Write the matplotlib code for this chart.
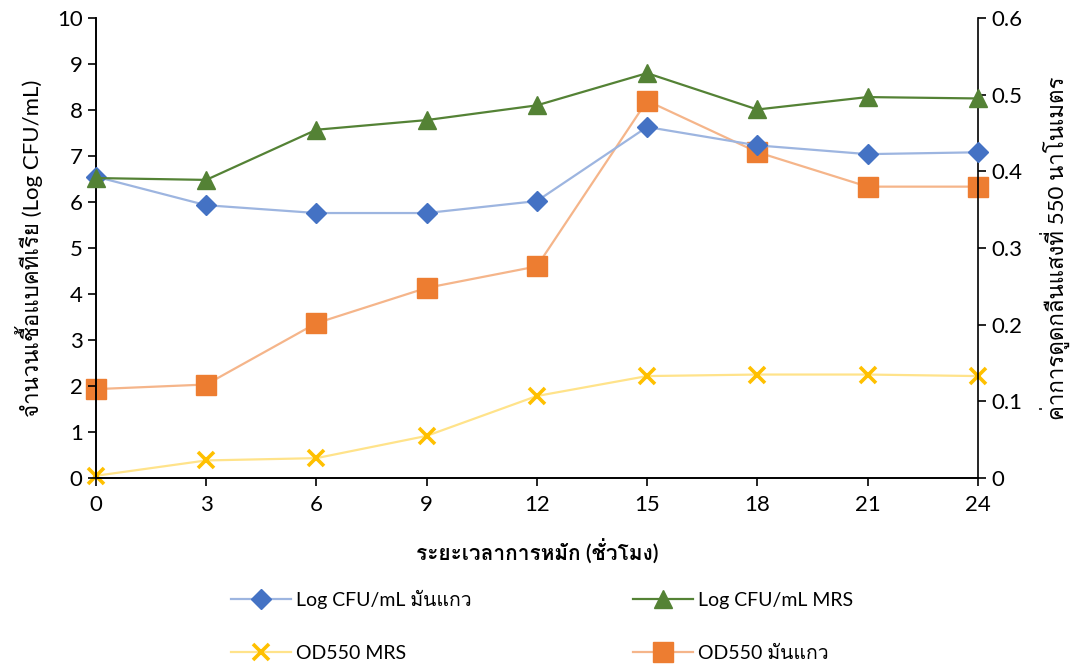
import matplotlib
matplotlib.use("Agg")
import matplotlib.pyplot as plt
from matplotlib import font_manager, ft2font

# ฟอนต์ที่มีอักษรไทย (ถ้ามีในเครื่อง)
thai_fonts = []
for f in font_manager.fontManager.ttflist:
    try:
        if ord("ก") in ft2font.FT2Font(f.fname).get_charmap():
            if f.name not in thai_fonts:
                thai_fonts.append(f.name)
    except Exception:
        pass
plt.rcParams["font.family"] = ["Lato"] + thai_fonts[:1] + ["DejaVu Sans"]

# ข้อมูล
hours = [0, 3, 6, 9, 12, 15, 18, 21, 24]
log_cassava = [6.55, 5.93, 5.76, 5.76, 6.02, 7.63, 7.23, 7.04, 7.08]
log_mrs = [6.52, 6.48, 7.57, 7.78, 8.10, 8.80, 8.01, 8.28, 8.25]
od_mrs = [0.003, 0.023, 0.026, 0.055, 0.107, 0.133, 0.135, 0.135, 0.133]
od_cassava = [0.116, 0.122, 0.202, 0.248, 0.276, 0.492, 0.425, 0.380, 0.380]

xlabel = "ระยะเวลาการหมัก (ชั่วโมง)"
ylabel_left = "จำนวนเชื้อแบคทีเรีย (Log CFU/mL)"
ylabel_right = "ค่าการดูดกลืนแสงที่ 550 นาโนเมตร"
names = ["Log CFU/mL มันแกว", "Log CFU/mL MRS", "OD550 MRS", "OD550 มันแกว"]

fig = plt.figure(figsize=(10.78, 6.64), dpi=100)
ax = fig.add_axes([0.089, 0.280, 0.818, 0.693])
ax2 = ax.twinx()

# แกนขวา: OD550
l3, = ax2.plot(hours, od_mrs, color="#FFE38A", lw=1.6, marker="x", ms=12,
               mec="#FFC000", mew=2.6, zorder=2, clip_on=False)
l4, = ax2.plot(hours, od_cassava, color="#F5B58A", lw=1.6, marker="s", ms=14,
               mfc="#ED7D31", mec="#ED7D31", zorder=2, clip_on=False)
# แกนซ้าย: Log CFU/mL
l1, = ax.plot(hours, log_cassava, color="#9DB5E0", lw=1.6, marker="D", ms=10,
              mfc="#4472C4", mec="#4472C4", zorder=3, clip_on=False)
l2, = ax.plot(hours, log_mrs, color="#548235", lw=1.6, marker="^", ms=13,
              mfc="#548235", mec="#548235", zorder=3, clip_on=False)

ax.set_zorder(ax2.get_zorder() + 1)
ax.patch.set_visible(False)

ax.set_xlim(0, 24)
ax.set_ylim(0, 10)
ax2.set_ylim(0, 0.6)
ax.set_xticks(hours)
ax.set_yticks(range(0, 11))
ax2.set_yticks([0, 0.1, 0.2, 0.3, 0.4, 0.5, 0.6])
ax2.set_yticklabels(["0", "0.1", "0.2", "0.3", "0.4", "0.5", "0.6"])

for a in (ax, ax2):
    a.spines["top"].set_visible(False)
    for s in a.spines.values():
        s.set_linewidth(1.2)
    a.tick_params(labelsize=16, length=6, width=1.2, colors="black")
ax.spines["right"].set_visible(False)
ax.tick_params(axis="x", pad=6)

ax.set_xlabel(xlabel, fontsize=15, fontweight="semibold", labelpad=18)
ax.set_ylabel(ylabel_left, fontsize=16, labelpad=10)
ax2.set_ylabel(ylabel_right, fontsize=16, rotation=90, labelpad=13)

fig.legend([l1, l3, l2, l4], [names[0], names[2], names[1], names[3]],
           ncol=2, loc="upper left", bbox_to_anchor=(0.207, 0.123),
           frameon=False, fontsize=14, handlelength=3.1, handletextpad=0.25,
           labelspacing=1.85, columnspacing=8.3, borderaxespad=0)

fig.savefig("out.png", dpi=100)
